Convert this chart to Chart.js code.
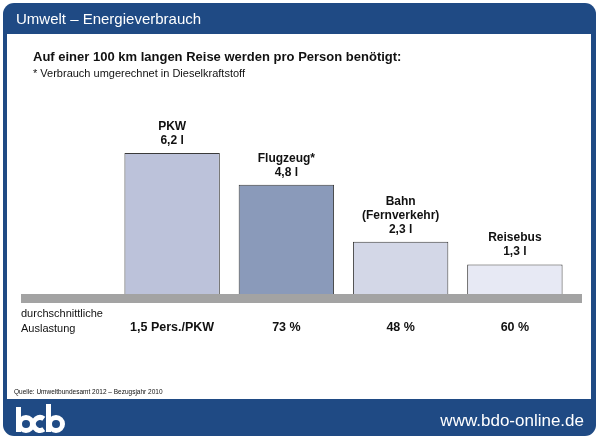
<!DOCTYPE html>
<html>
<head>
<meta charset="utf-8">
<script src="https://cdn.jsdelivr.net/npm/chart.js@4/dist/chart.umd.min.js"></script>
<style>
  html, body { margin: 0; padding: 0; background: #fff; }
  canvas { display: block; }
</style>
</head>
<body>
<canvas id="chart" width="600" height="441"></canvas>
<script>
// Daten aus der Grafik
const categories = [['PKW'], ['Flugzeug*'], ['Bahn', '(Fernverkehr)'], ['Reisebus']];
const consumption = [6.2, 4.8, 2.3, 1.3];
const occupancy = ['1,5 Pers./PKW', '73 %', '48 %', '60 %'];
const barColors = ['#bcc2da', '#8a9aba', '#d3d7e7', '#e7e9f4'];

const blue = '#1f4a84';
const font = '"Liberation Sans", Arial, sans-serif';

// Rahmen, Kopf- und Fußzeile
const framePlugin = {
  id: 'framePlugin',
  beforeDraw(chart) {
    const ctx = chart.ctx;
    ctx.save();
    ctx.fillStyle = '#fff';
    ctx.fillRect(0, 0, chart.width, chart.height);
    ctx.fillStyle = blue;
    ctx.beginPath();
    ctx.roundRect(3, 3, 593, 433, 11);
    ctx.fill();
    ctx.fillStyle = '#fff';
    ctx.fillRect(7, 34, 584, 365);

    ctx.fillStyle = '#fff';
    ctx.font = '15px ' + font;
    ctx.textBaseline = 'alphabetic';
    ctx.fillText('Umwelt \u2013 Energieverbrauch', 16, 24);

    ctx.font = '17px ' + font;
    ctx.textAlign = 'right';
    ctx.fillText('www.bdo-online.de', 584, 426);

    // Logo "bdo"
    ctx.strokeStyle = '#fff';
    ctx.lineWidth = 5;
    ctx.lineCap = 'butt';
    ctx.beginPath();
    ctx.moveTo(18.5, 407); ctx.lineTo(18.5, 432);
    ctx.stroke();
    ctx.beginPath();
    ctx.arc(26, 424, 6.5, 0, Math.PI * 2);
    ctx.stroke();
    ctx.beginPath();
    ctx.arc(40, 424, 6.5, Math.PI * 0.3, Math.PI * 1.7);
    ctx.stroke();
    ctx.beginPath();
    ctx.moveTo(48.5, 404); ctx.lineTo(48.5, 432);
    ctx.stroke();
    ctx.beginPath();
    ctx.arc(56, 424, 6.5, 0, Math.PI * 2);
    ctx.stroke();

    ctx.fillStyle = '#111';
    ctx.textAlign = 'left';
    ctx.font = 'bold 13px ' + font;
    ctx.fillText('Auf einer 100 km langen Reise werden pro Person ben\u00f6tigt:', 33, 61);
    ctx.font = '11px ' + font;
    ctx.fillText('* Verbrauch umgerechnet in Dieselkraftstoff', 33, 77);

    ctx.font = '6.5px ' + font;
    ctx.fillText('Quelle: Umweltbundesamt 2012 \u2013 Bezugsjahr 2010', 14, 394);
    ctx.restore();
  }
};

// Beschriftungen über den Balken, graue Grundlinie, Auslastung
const labelPlugin = {
  id: 'labelPlugin',
  afterDatasetsDraw(chart) {
    const ctx = chart.ctx;
    const area = chart.chartArea;
    const meta = chart.getDatasetMeta(0);
    ctx.save();

    ctx.fillStyle = '#a3a3a3';
    ctx.fillRect(21, area.bottom, 561, 9);

    ctx.fillStyle = '#111';
    ctx.textAlign = 'center';
    meta.data.forEach((bar, i) => {
      ctx.font = 'bold 12px ' + font;
      const lines = categories[i].concat([consumption[i].toFixed(1).replace('.', ',') + ' l']);
      let y = bar.y - 9;
      for (let k = lines.length - 1; k >= 0; k--) {
        ctx.fillText(lines[k], bar.x, y);
        y -= 14;
      }
      ctx.font = 'bold 12.5px ' + font;
      ctx.fillText(occupancy[i], bar.x, 331);
    });

    ctx.textAlign = 'left';
    ctx.font = '11px ' + font;
    ctx.fillText('durchschnittliche', 21, 317);
    ctx.fillText('Auslastung', 21, 332);
    ctx.restore();
  }
};

new Chart(document.getElementById('chart'), {
  type: 'bar',
  data: {
    labels: categories.map(c => c.join(' ')),
    datasets: [{
      data: consumption,
      backgroundColor: barColors,
      borderColor: '#3a3a3a',
      borderWidth: 1,
      borderSkipped: 'bottom',
      categoryPercentage: 1,
      barPercentage: 0.835
    }]
  },
  options: {
    responsive: false,
    animation: false,
    devicePixelRatio: 1,
    layout: { padding: { left: 115, right: 28, top: 112, bottom: 147 } },
    plugins: { legend: { display: false }, tooltip: { enabled: false } },
    scales: {
      x: { display: false },
      y: { display: false, min: 0, max: 8 }
    }
  },
  plugins: [framePlugin, labelPlugin]
});
</script>
</body>
</html>
